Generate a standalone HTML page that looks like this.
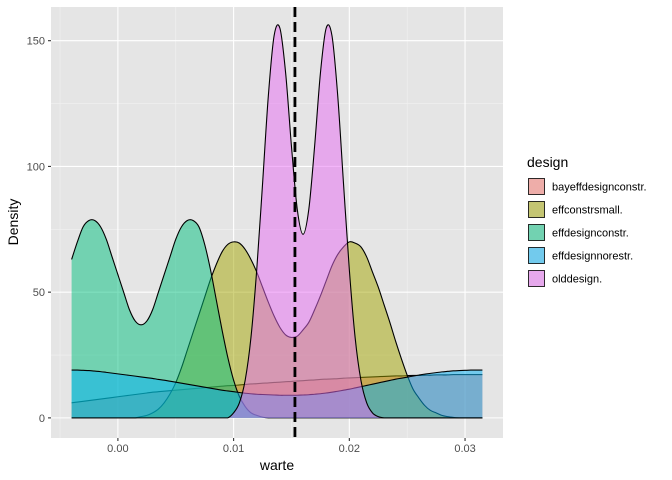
<!DOCTYPE html>
<html><head><meta charset="utf-8"><style>
body{margin:0;background:#fff;}
svg{display:block;font-family:"Liberation Sans",Arial,sans-serif;}
</style></head><body>
<svg id="chart" width="672" height="480" viewBox="0 0 672 480"></svg>
<script>
const xs = Array.from({length:72},(_,i)=>-0.004+0.0005*i);
const seriesNames = ["bayeffdesignconstr.","effconstrsmall.","effdesignconstr.","effdesignnorestr.","olddesign."];
const bayValues = [6.0,6.3,6.6,6.9,7.2,7.5,7.8,8.1,8.4,8.7,9.0,9.3,9.6,9.9,10.2,10.4,10.6,10.8,11.0,11.2,11.4,11.6,11.8,12.0,12.2,12.4,12.6,12.8,12.9,13.1,13.3,13.5,13.6,13.8,13.9,14.1,14.2,14.4,14.5,14.7,14.8,15.0,15.1,15.3,15.4,15.5,15.6,15.8,15.9,16.0,16.1,16.2,16.3,16.4,16.5,16.6,16.7,16.7,16.8,16.9,16.9,17.0,17.0,17.1,17.1,17.1,17.2,17.2,17.2,17.2,17.2,17.2];
const smallValues = [0,0,0,0,0,0,0,0,0,0,0,0,0.5,1,2,3.5,6,9.5,14,20,27,34,41,48,55,61,66,69,70,69.5,67,63,58,52,46,40.5,36,33,32,32.5,35,38,43,48.5,54.5,60.5,65,68,70,69.5,68,64,58,52,45,38,30.5,23.5,17,11.5,8,5,3,2,1,0.5,0.2,0,0,0,0,0];
const constrValues = [63,70,76,78.5,78.5,76,71,64,57,50,43,38.5,37,38.5,43,50,57,64,71,76,78.5,78.5,76,69,59,47,35,24,15,8.5,4.5,2,1,0.3,0,0,0,0,0,0,0,0,0,0,0,0,0,0,0,0,0,0,0,0,0,0,0,0,0,0,0,0,0,0,0,0,0,0,0,0,0,0];
const norestrValues = [19.0,19.0,18.9,18.8,18.6,18.4,18.1,17.8,17.5,17.2,16.9,16.6,16.3,16.0,15.7,15.3,15.0,14.6,14.2,13.8,13.4,13.0,12.6,12.2,11.8,11.4,11.0,10.7,10.4,10.1,9.8,9.6,9.4,9.3,9.2,9.1,9.0,9.0,9.0,9.0,9.1,9.2,9.4,9.6,9.9,10.2,10.6,11.0,11.4,11.9,12.4,12.9,13.4,13.9,14.4,14.9,15.4,15.8,16.2,16.6,17.0,17.4,17.7,18.0,18.3,18.5,18.7,18.8,18.9,19.0,19.0,19.0];
const oldValues = [0,0,0,0,0,0,0,0,0,0,0,0,0,0,0,0,0,0,0,0,0,0,0,0,0,0,0,0,2,6,15,32,59,93,128,152,155,137,108,83,73,83,108,137,155,152,128,93,59,32,15,6,2,0.5,0,0,0,0,0,0,0,0,0,0,0,0,0,0,0,0,0,0];
const xTicks = [0,0.01,0.02,0.03];
const xTickLabels = ["0.00","0.01","0.02","0.03"];
const yTicks = [0,50,100,150];
const yTickLabels = ["0","50","100","150"];
const vlineValue = 0.0153;

const colors = ["#F8766D","#A3A500","#00BF7D","#00B0F6","#E76BF3"];
const allValues = [bayValues,smallValues,constrValues,norestrValues,oldValues];
const P = {l:51,r:503,t:7,b:438};
const xDom = [-0.00578, 0.03328];
const yDom = [-8.0, 163.4];
const X = v => P.l + (v - xDom[0])/(xDom[1]-xDom[0])*(P.r-P.l);
const Y = v => P.b - (v - yDom[0])/(yDom[1]-yDom[0])*(P.b-P.t);
const NS = "http://www.w3.org/2000/svg";
const svg = document.getElementById("chart");
function mk(tag, attrs, parent){ const e=document.createElementNS(NS,tag); for(const k in attrs) e.setAttribute(k,attrs[k]); (parent||svg).appendChild(e); return e; }

const panel = mk("rect",{x:P.l,y:P.t,width:P.r-P.l,height:P.b-P.t,fill:"#E5E5E5"});



[-0.005,0.005,0.015,0.025].forEach(v=>{ const l=mk("line",{x1:X(v),x2:X(v),y1:P.t,y2:P.b,stroke:"#F2F2F2","stroke-width":0.6});

 });
[25,75,125].forEach(v=>{ const l=mk("line",{x1:P.l,x2:P.r,y1:Y(v),y2:Y(v),stroke:"#F2F2F2","stroke-width":0.6});

 });
xTicks.forEach(v=>{ const l=mk("line",{x1:X(v),x2:X(v),y1:P.t,y2:P.b,stroke:"#FFFFFF","stroke-width":1.1});

 });
yTicks.forEach(v=>{ const l=mk("line",{x1:P.l,x2:P.r,y1:Y(v),y2:Y(v),stroke:"#FFFFFF","stroke-width":1.1});

 });

function curvePath(vals){
  const pts = xs.map((x,i)=>[X(x),Y(vals[i])]);
  let d = "M"+pts[0][0].toFixed(2)+","+pts[0][1].toFixed(2);
  for(let i=0;i<pts.length-1;i++){
    const p0=pts[Math.max(0,i-1)],p1=pts[i],p2=pts[i+1],p3=pts[Math.min(pts.length-1,i+2)];
    let c1y=p1[1]+(p2[1]-p0[1])/6, c2y=p2[1]-(p3[1]-p1[1])/6;
    const base=Y(0); c1y=Math.min(c1y,base); c2y=Math.min(c2y,base);
    d+=" C"+(p1[0]+(p2[0]-p0[0])/6).toFixed(2)+","+c1y.toFixed(2)+" "+(p2[0]-(p3[0]-p1[0])/6).toFixed(2)+","+c2y.toFixed(2)+" "+p2[0].toFixed(2)+","+p2[1].toFixed(2);
  }
  return d;
}
const slugs = ["bayeffdesignconstr","effconstrsmall","effdesignconstr","effdesignnorestr","olddesign"];
allValues.forEach((vals,k)=>{
  const d = curvePath(vals);
  const area = mk("path",{d:d+" L"+X(xs[xs.length-1])+","+Y(0)+" L"+X(xs[0])+","+Y(0)+" Z",fill:colors[k],"fill-opacity":0.5,stroke:"none"});
  
  
  const line = mk("path",{d:d,fill:"none",stroke:"#000","stroke-width":1.1});
  
  
});

const vl = mk("line",{x1:X(vlineValue),x2:X(vlineValue),y1:P.t,y2:P.b,stroke:"#000","stroke-width":2.8,"stroke-dasharray":"10,5"});



xTicks.forEach((v,i)=>{
  const t=mk("line",{x1:X(v),x2:X(v),y1:P.b,y2:P.b+3,stroke:"#333","stroke-width":1.1});
  
  
  const tx=mk("text",{x:X(v),y:P.b+14,"text-anchor":"middle","font-size":"11",fill:"#4D4D4D"}); tx.textContent=xTickLabels[i];
  
  
});
yTicks.forEach((v,i)=>{
  const t=mk("line",{x1:P.l-3,x2:P.l,y1:Y(v),y2:Y(v),stroke:"#333","stroke-width":1.1});
  
  
  const tx=mk("text",{x:P.l-6,y:Y(v)+4,"text-anchor":"end","font-size":"11",fill:"#4D4D4D"}); tx.textContent=yTickLabels[i];
  
  
});
const xt=mk("text",{x:277,y:470,"text-anchor":"middle","font-size":"14",fill:"#000"}); xt.textContent="warte";


const yt=mk("text",{x:18,y:222,"text-anchor":"middle","font-size":"14",fill:"#000",transform:"rotate(-90 18 222)"}); yt.textContent="Density";



const lg=mk("text",{x:527,y:167,"font-size":"14",fill:"#000"}); lg.textContent="design";


seriesNames.forEach((n,k)=>{
  const y0=178+k*23;
  const bg=mk("rect",{x:528,y:y0,width:17,height:17,fill:"#E5E5E5"});
  
  
  const r=mk("rect",{x:528.5,y:y0+0.5,width:16,height:16,fill:colors[k],"fill-opacity":0.5,stroke:"#000","stroke-width":0.8});
  
  
  const t=mk("text",{x:552,y:y0+12.5,"font-size":"11",fill:"#000"}); t.textContent=n;
  
  
});
</script>
</body></html>
